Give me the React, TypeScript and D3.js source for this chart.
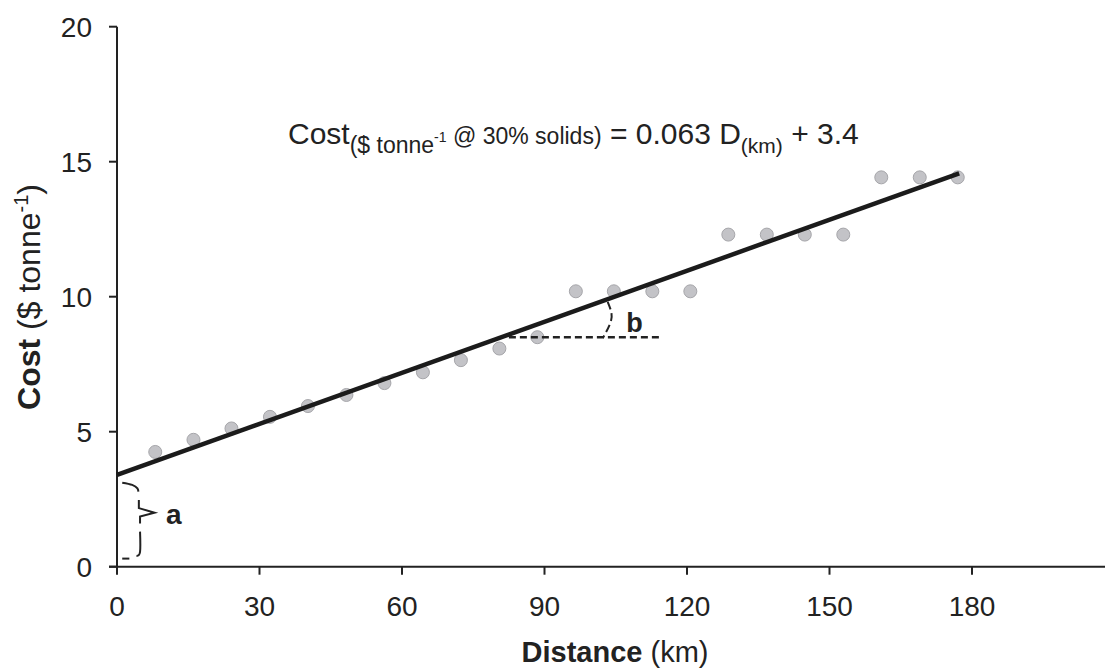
import React from "react";
import * as d3 from "d3";

const W = 1105;
const H = 671;

// observed haulage points (every 5 miles, in km)
const distanceKm = [8.05, 16.1, 24.1, 32.2, 40.2, 48.3, 56.3, 64.4, 72.4, 80.5, 88.5, 96.6, 104.6, 112.7, 120.7, 128.7, 136.8, 144.8, 152.9, 160.9, 169.0, 177.0];
const costPerTonne = [4.25, 4.7, 5.12, 5.55, 5.95, 6.36, 6.8, 7.2, 7.65, 8.08, 8.5, 10.2, 10.2, 10.2, 10.2, 12.3, 12.3, 12.3, 12.3, 14.42, 14.42, 14.42];

// regression: cost = 0.063 D + 3.4
const slope = 0.063;
const intercept = 3.4;
const fitRange = [0, 177.3];

const xTicks = [0, 30, 60, 90, 120, 150, 180];
const yTicks = [0, 5, 10, 15, 20];

// annotation shapes, in data units
const bDashed: [number, number][] = [[82.5, 8.5], [114.2, 8.5]];
const bArc: [number, number][] = [[103.3, 9.81], [104.1, 9.39], [103.8, 9.0], [102.3, 8.47]];
const braceTop: [number, number][] = [[1.1, 3.11], [3.2, 3.03], [4.3, 2.9], [4.5, 2.78]];
const braceMid: [number, number][] = [[4.6, 2.47], [4.6, 2.17], [7.9, 2.0], [4.85, 1.86], [4.85, 1.6]];
const braceLow: [number, number][] = [[4.85, 1.3], [4.85, 0.55], [4.1, 0.4]];
const braceDash: [number, number][] = [[1.1, 0.3], [2.6, 0.3]];

const font = "'Liberation Sans', Arial, Helvetica, sans-serif";

export default function App() {
  const x = d3.scaleLinear().domain([0, 208]).range([117, 1105]);
  const y = d3.scaleLinear().domain([0, 20]).range([566.7, 26.7]);

  const line = d3.line<[number, number]>().x((d) => x(d[0])).y((d) => y(d[1]));
  const curve = d3
    .line<[number, number]>()
    .x((d) => x(d[0]))
    .y((d) => y(d[1]))
    .curve(d3.curveNatural);

  const fitPts: [number, number][] = fitRange.map((d) => [d, slope * d + intercept]);

  return (
    <svg
      width={W}
      height={H}
      style={{ position: "absolute", left: 0, top: 0, background: "#fff" }}
      fontFamily={font}
    >
      {/* axes */}
      <g stroke="#222" strokeWidth={2}>
        <line x1={x(0)} x2={x(0)} y1={y(20)} y2={y(0)} />
        <line x1={x(0) - 8} x2={W} y1={y(0)} y2={y(0)} />
        {yTicks.map((t) => (
          <line key={"yt" + t} x1={x(0) - 8} x2={x(0)} y1={y(t)} y2={y(t)} />
        ))}
        {xTicks.map((t) => (
          <line key={"xt" + t} x1={x(t)} x2={x(t)} y1={y(0)} y2={y(0) + 8} />
        ))}
      </g>
      {yTicks.map((t) => (
        <text key={"yl" + t} x={x(0) - 25} y={y(t)} dy="0.36em" textAnchor="end" fontSize={28} fill="#222">
          {t}
        </text>
      ))}
      {xTicks.map((t) => (
        <text key={"xl" + t} x={x(t)} y={y(0) + 49} textAnchor="middle" fontSize={28} fill="#222">
          {t}
        </text>
      ))}

      {/* axis titles */}
      <text x={615} y={662} textAnchor="middle" fontSize={29} fill="#222">
        <tspan fontWeight="bold">Distance</tspan>
        <tspan> (km)</tspan>
      </text>
      <text transform="translate(40,297) rotate(-90)" textAnchor="middle" fontSize={32} fill="#222">
        <tspan fontWeight="bold">Cost</tspan>
        <tspan> ($ tonne</tspan>
        <tspan fontSize={20} dy={-12}>-1</tspan>
        <tspan dy={12}>)</tspan>
      </text>

      {/* points */}
      {distanceKm.map((d, i) => (
        <circle key={i} cx={x(d)} cy={y(costPerTonne[i])} r={6.5} fill="#c3c3c7" stroke="#a6a6aa" strokeWidth={1} />
      ))}

      {/* regression line */}
      <path d={line(fitPts) || ""} stroke="#1b1b1b" strokeWidth={4.5} fill="none" />

      {/* annotation b */}
      <path d={line(bDashed) || ""} stroke="#222" strokeWidth={2.5} strokeDasharray="7,4" fill="none" />
      <path d={curve(bArc) || ""} stroke="#222" strokeWidth={2} strokeDasharray="8,4" fill="none" />
      <text x={x(107.2)} y={y(8.7)} fontSize={27} fontWeight="bold" fill="#222">b</text>

      {/* annotation a */}
      <g stroke="#222" strokeWidth={2} fill="none">
        <path d={curve(braceTop) || ""} />
        <path d={line(braceMid) || ""} />
        <path d={curve(braceLow) || ""} />
        <path d={line(braceDash) || ""} />
      </g>
      <text x={x(10.3)} y={y(1.6)} fontSize={28} fontWeight="bold" fill="#222">a</text>

      {/* equation */}
      <text x={288} y={144} fontSize={30} fill="#222">
        <tspan>Cost</tspan>
        <tspan fontSize={23} dy={9}>($ tonne</tspan>
        <tspan fontSize={14} dy={-11}>-1</tspan>
        <tspan fontSize={23} dy={2}> @ 30% solids)</tspan>
        <tspan dy={0}> = 0.063 D</tspan>
        <tspan fontSize={21} dy={9}>(km)</tspan>
        <tspan dy={-9}> + 3.4</tspan>
      </text>
    </svg>
  );
}
